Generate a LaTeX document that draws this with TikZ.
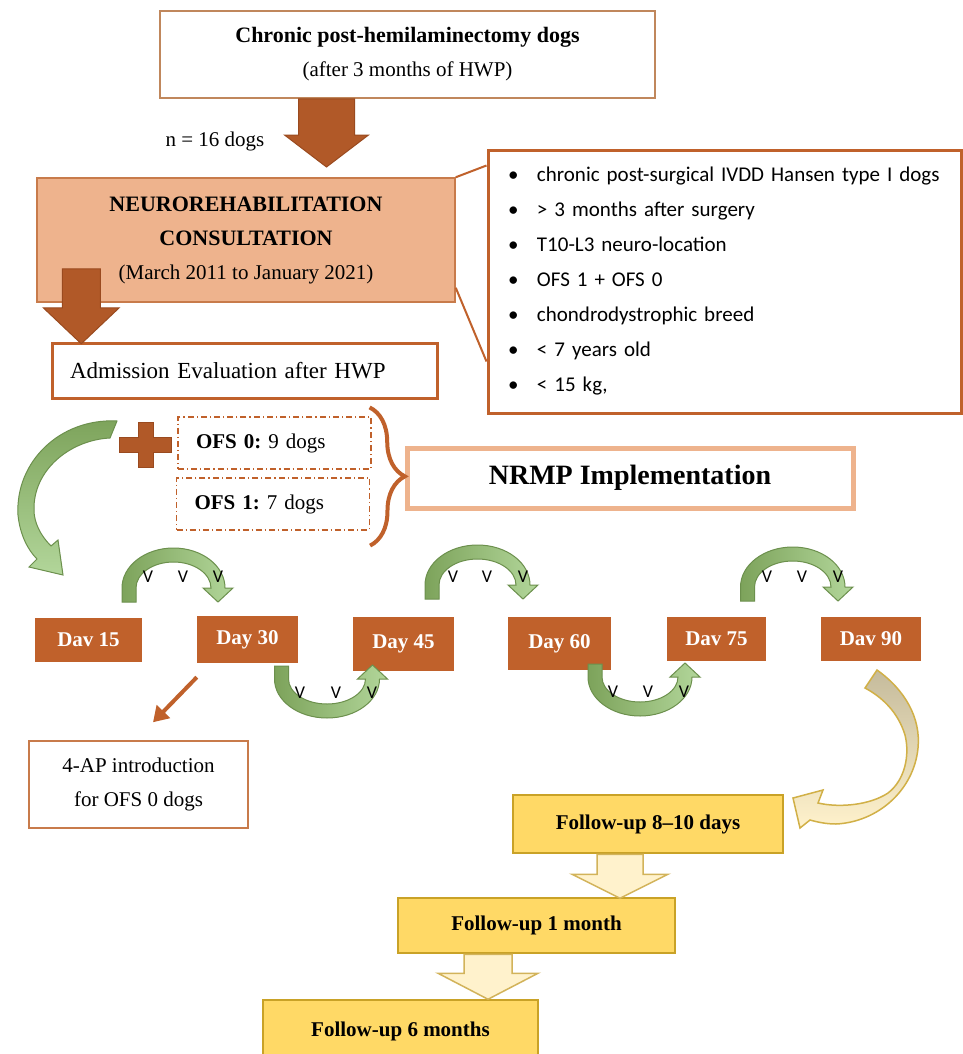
\documentclass[tikz,border=0pt]{standalone}
\usepackage{fontspec}
\setmainfont{Liberation Serif}
\newfontfamily\calibri{Carlito}
\usepackage{tikz}
\usetikzlibrary{calc, positioning, arrows.meta, decorations.pathreplacing}
\frenchspacing

\definecolor{rust}{HTML}{C0612B}
\definecolor{rustdark}{HTML}{9A4A1F}
\definecolor{peach}{HTML}{EEB38D}
\definecolor{peachedge}{HTML}{C87B4B}
\definecolor{lightbrown}{HTML}{C0875C}
\definecolor{leafdark}{HTML}{7DA35B}
\definecolor{leaflight}{HTML}{B2D69A}
\definecolor{leafedge}{HTML}{6C904D}
\definecolor{gold}{HTML}{FFD966}
\definecolor{goldedge}{HTML}{C9A227}
\definecolor{cream}{HTML}{FFF2CC}
\definecolor{creamedge}{HTML}{D2B35A}
\definecolor{khaki}{HTML}{C5BB9C}

\tikzset{
    x=1pt, y=-1pt, % one unit is one pixel of the layout, y runs downwards
    box/.style = {rectangle, draw=lightbrown, line width=2pt, inner sep=0pt, align=center}, % plain framed box
    infobox/.style = {rectangle, draw=rust, line width=3pt, inner sep=0pt},
    dashbox/.style = {rectangle, draw=rust, line width=1.2pt, dash pattern=on 6pt off 3pt on 1.2pt off 3pt, inner ysep=0pt, inner xsep=18pt, text width=157pt, minimum height=52pt, align=left},
    daybox/.style = {rectangle, fill=rust, text=white, font=\bfseries\fontsize{21}{25}\selectfont, inner sep=0pt},
    followbox/.style = {rectangle, fill=gold, draw=goldedge, line width=2.5pt, font=\bfseries\fontsize{21}{25}\selectfont, inner sep=0pt},
    blockarrow/.style = {fill=rust!92!black, draw=rustdark, line width=1pt},
    palearrow/.style = {fill=cream, draw=creamedge, line width=1.5pt},
    leafband/.style = {draw=leafedge, line width=1pt, left color=leafdark, right color=leaflight},
    tick/.style = {font=\calibri\fontsize{18}{20}\selectfont, inner sep=0pt}
}

% fat arrow pointing down: style, top centre, shaft half width, shaft length, head half width, head length
\newcommand{\blockdown}[6]{\draw[#1] #2 ++({-#3},0) -- ++({2*#3},0) -- ++(0,#4) -- ++({#5-#3},0) -- ++({-#5},#6) -- ++({-#5},{-#6}) -- ++({#5-#3},0) -- cycle;}
% green half-ring arrows over and under the day boxes: centre x, head base y, half span
\newcommand{\overarc}[3]{\shadedraw[leafband] ({#1-#3-7},{#2+14}) -- ({#1-#3-7},#2) arc[start angle=180, end angle=360, x radius={#3+7}, y radius=40] -- ({#1+#3+15},#2) -- ({#1+#3},{#2+14}) -- ({#1+#3-15},#2) -- ({#1+#3-7},#2) arc[start angle=360, end angle=180, x radius={#3-7}, y radius=26] -- ({#1-#3+7},{#2+14}) -- cycle;}
\newcommand{\underarc}[3]{\shadedraw[leafband] ({#1-#3-7},{#2-13}) -- ({#1-#3-7},#2) arc[start angle=180, end angle=0, x radius={#3+7}, y radius=39] -- ({#1+#3+15},#2) -- ({#1+#3},{#2-14}) -- ({#1+#3-15},#2) -- ({#1+#3-7},#2) arc[start angle=0, end angle=180, x radius={#3-7}, y radius=25] -- ({#1-#3+7},{#2-13}) -- cycle;}

\begin{document}
\begin{tikzpicture}[font=\fontsize{21}{34}\selectfont]
    \fill[white] (0,0) rectangle (963,1054);
    \useasboundingbox (0,0) rectangle (963,1054);

    % intake
    \node[box, minimum width=495, minimum height=87] (hemi) at (407.5,54.5) {{\fontsize{22}{34}\selectfont\textbf{Chronic post-hemilaminectomy dogs}}\\(after 3 months of HWP)};
    \node (count) at (215,141) {n = 16 dogs};
    \node[box, draw=peachedge, fill=peach, line width=1.5pt, minimum width=418, minimum height=124] (consult) at (246,240) {{\fontsize{22}{35}\selectfont\textbf{NEUROREHABILITATION}}\\{\fontsize{22}{35}\selectfont\textbf{CONSULTATION}}\\(March 2011 to January 2021)};
    \node[infobox, minimum height=55, text width=349, inner xsep=18, align=left, font=\fontsize{23}{28}\selectfont] (admit) at (244.5,370.5) {Admission Evaluation after HWP};
    \node[infobox, text width=433, inner xsep=20, minimum height=263, align=left, font=\calibri\fontsize{21}{35}\selectfont] (criteria) at (724.5,281.5) {%
        \makebox[29pt][l]{\textbullet}chronic post-surgical IVDD Hansen type I dogs\\
        \makebox[29pt][l]{\textbullet}> 3 months after surgery\\
        \makebox[29pt][l]{\textbullet}T10-L3 neuro-location\\
        \makebox[29pt][l]{\textbullet}OFS 1 + OFS 0\\
        \makebox[29pt][l]{\textbullet}chondrodystrophic breed\\
        \makebox[29pt][l]{\textbullet}< 7 years old\\
        \makebox[29pt][l]{\textbullet}< 15 kg,};

    \blockdown{blockarrow}{($(hemi.south)+(-81,0)$)}{28}{36}{42}{32}
    \blockdown{blockarrow}{($(consult.south west)+(45,-34)$)}{19}{39}{38}{36}
    \draw[rust, line width=2pt] (consult.north east) -- ($(criteria.north west)+(0,17)$);
    \draw[rust, line width=2pt] ($(consult.south east)+(0,-15)$) -- ($(criteria.south west)+(0,-53)$);

    % groups
    \node[dashbox] (ofs0) at (274.5,443) {\textbf{OFS 0:} 9 dogs};
    \node[dashbox] (ofs1) at (273,504) {\textbf{OFS 1:} 7 dogs};
    \node[rectangle, draw=peach, line width=5pt, minimum width=446, minimum height=60, font=\bfseries\fontsize{28}{32}\selectfont] (nrmp) at (630,478) {NRMP Implementation};
    \draw[rust, line width=4pt, decorate, decoration={brace, amplitude=35pt}] ($(ofs0.north east)+(-2,-9)$) -- ($(ofs1.south east)+(0,15)$);
    \draw[blockarrow] (138,422) -- (153,422) -- (153,437) -- (171,437) -- (171,452) -- (153,452) -- (153,467) -- (138,467) -- (138,452) -- (119,452) -- (119,437) -- (138,437) -- cycle;
    \shadedraw[draw=leafedge, line width=1pt, top color=leafdark, bottom color=leaflight] (117,421) .. controls (60,418) and (15,462) .. (18,515) .. controls (20,535) and (28,550) .. (37,559) -- (29,567) -- (63,575) -- (58,540) -- (51,546) .. controls (40,535) and (34,522) .. (34,510) .. controls (33,470) and (70,440) .. (110,438) -- cycle;

    % programme days
    \node[daybox, minimum width=107, minimum height=44] (d15) at (88.5,640) {Dav 15};
    \node[daybox, minimum width=101, minimum height=47] (d30) at (247.5,639.5) {Day 30};
    \node[daybox, minimum width=101, minimum height=54] (d45) at (403.5,644) {Day 45};
    \node[daybox, minimum width=103, minimum height=53] (d60) at (559.5,643.5) {Day 60};
    \node[daybox, minimum width=99, minimum height=44] (d75) at (716.5,639) {Dav 75};
    \node[daybox, minimum width=100, minimum height=44] (d90) at (871,639) {Dav 90};

    \overarc{173.5}{588}{44.5}
    \overarc{477.5}{585}{45.5}
    \overarc{792.75}{587}{45.25}
    \underarc{327}{679}{45.5}
    \underarc{640}{677}{45}
    \node[tick] (v1a) at (148,577) {V}; \node[tick] (v1b) at (183,577) {V}; \node[tick] (v1c) at (218,577) {V};
    \node[tick] (v2a) at (453,577) {V}; \node[tick] (v2b) at (487,577) {V}; \node[tick] (v2c) at (523,577) {V};
    \node[tick] (v3a) at (767,577) {V}; \node[tick] (v3b) at (802,577) {V}; \node[tick] (v3c) at (838,577) {V};
    \node[tick] (v4a) at (300,693) {V}; \node[tick] (v4b) at (336,693) {V}; \node[tick] (v4c) at (372,693) {V};
    \node[tick] (v5a) at (613,692) {V}; \node[tick] (v5b) at (648,692) {V}; \node[tick] (v5c) at (684,692) {V};

    \node[box, draw=peachedge, line width=1.5pt, minimum width=219, minimum height=87] (fourap) at (138.5,784.5) {4-AP introduction\\for OFS 0 dogs};
    \draw[rust, line width=4pt, -{Triangle[length=15pt, width=18pt]}] ($(d30.south west)+(0,14)$) -- ($(fourap.north)+(14.5,-18)$);

    % follow-up
    \node[followbox, minimum width=270, minimum height=58] (f1) at (648,824) {Follow-up 8--10 days};
    \node[followbox, minimum width=277, minimum height=55] (f2) at (536.5,925.5) {Follow-up 1 month};
    \node[followbox, minimum width=275, minimum height=62] (f3) at (400.5,1031) {Follow-up 6 months};
    \shadedraw[draw=goldedge!85!white, line width=1.5pt, top color=khaki, bottom color=cream] (877,670) .. controls (905,690) and (921,718) .. (918,748) .. controls (914,790) and (878,822) .. (836,824) .. controls (826,824) and (817,822) .. (810,820) -- (800,828) -- (793,798) -- (823,790) -- (818,803) .. controls (840,808) and (870,805) .. (888,793) .. controls (905,780) and (910,755) .. (905,735) .. controls (898,712) and (882,697) .. (865,688) -- cycle;
    \blockdown{palearrow}{($(f1.south)+(-28,0)$)}{23}{20}{48}{24}
    \blockdown{palearrow}{($(f2.south)+(-48.5,0)$)}{24}{19}{50}{26}
\end{tikzpicture}
\end{document}
